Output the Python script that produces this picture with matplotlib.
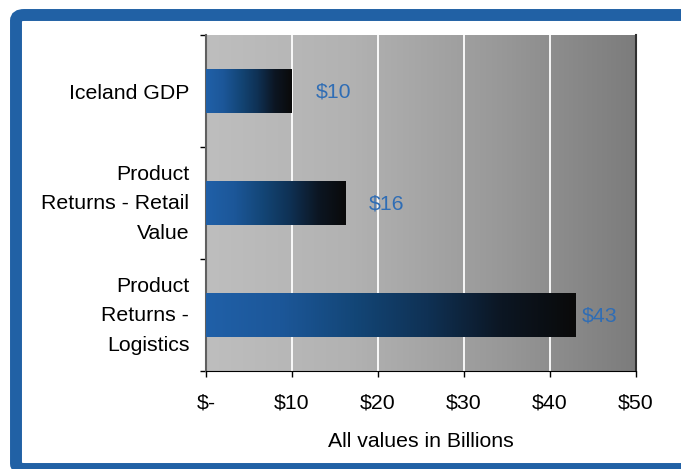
import numpy as np
import matplotlib
matplotlib.use("Agg")
import matplotlib.pyplot as plt
import matplotlib.transforms as mtransforms
from matplotlib.colors import LinearSegmentedColormap
from matplotlib.patches import FancyBboxPatch

# data
categories = ["Iceland GDP", "Product\nReturns - Retail\nValue", "Product\nReturns -\nLogistics"]
values = [10, 16.2, 43]
value_labels = ["$10", "$16", "$43"]
xticks = [0, 10, 20, 30, 40, 50]
xtick_labels = ["$-", "$10", "$20", "$30", "$40", "$50"]

plt.rcParams["font.family"] = ["Liberation Sans", "DejaVu Sans"]
fs = 15.3

fig = plt.figure(figsize=(6.81, 4.69), dpi=100)
ax = fig.add_axes([206 / 681, 1 - 371 / 469, 430 / 681, 336 / 469])

# blue frame around the figure
frame = FancyBboxPatch((16 / 681, 0), 700 / 681, (469 - 15) / 469,
                       boxstyle="round,pad=0,rounding_size=0.012",
                       transform=fig.transFigure, fill=False,
                       edgecolor="#2161a5", linewidth=8.6, clip_on=False)
fig.patches.append(frame)

# gray gradient plot background
bg = LinearSegmentedColormap.from_list("bg", ["#bebebe", "#b2b2b2", "#9a9a9a", "#7c7c7c"])
grad = np.linspace(0, 1, 256).reshape(1, -1)
ax.imshow(grad, cmap=bg, extent=[0, 50, -0.5, 2.5], aspect="auto", zorder=0)

ypos = np.arange(len(categories))
bars = ax.barh(ypos, values, height=0.4, color="none", zorder=3)

barcm = LinearSegmentedColormap.from_list(
    "bar", ["#2060a8", "#1c5799", "#134677", "#0f3154", "#0c1623", "#0a0a0a"])
for b in bars:
    x0, y0 = b.get_x(), b.get_y()
    w, h = b.get_width(), b.get_height()
    im = ax.imshow(grad, cmap=barcm, extent=[x0, x0 + w, y0, y0 + h],
                   aspect="auto", zorder=3)
    im.set_clip_path(b)

offsets = [17, 17, 4]
for b, lab, off in zip(bars, value_labels, offsets):
    ax.annotate(lab, (b.get_width(), b.get_y() + b.get_height() / 2),
                xytext=(off, -1), textcoords="offset points",
                ha="left", va="center", color="#2f6db5", fontsize=fs, zorder=4)

ax.set_xlim(0, 50)
ax.set_ylim(2.5, -0.5)

for x in xticks[1:-1]:
    ax.axvline(x, color="white", linewidth=1.3, zorder=1)

ax.set_xticks(xticks)
ax.set_xticklabels(xtick_labels, fontsize=fs)
ax.set_yticks(ypos)
ax.set_yticklabels(categories, fontsize=fs, multialignment="right", linespacing=1.7)
ax.set_yticks([-0.5, 0.5, 1.5, 2.5], minor=True)
ax.tick_params(axis="y", which="major", length=0, pad=12)
ax.tick_params(axis="y", which="minor", length=4, width=1, direction="out")
ax.tick_params(axis="x", length=4, width=1, direction="out", pad=12)
ax.set_xlabel("All values in Billions", fontsize=fs, labelpad=14)

# nudge the multi-line category labels up a little
shift = mtransforms.ScaledTranslation(0, 0.065, fig.dpi_scale_trans)
for lab in ax.get_yticklabels():
    if "\n" in lab.get_text():
        lab.set_transform(lab.get_transform() + shift)

ax.spines["top"].set_visible(False)
ax.spines["left"].set_color("#606060")
ax.spines["left"].set_linewidth(1.5)
ax.spines["right"].set_color("#303030")
ax.spines["right"].set_linewidth(1.5)
ax.spines["bottom"].set_color("black")

fig.savefig("out.png", dpi=100)
